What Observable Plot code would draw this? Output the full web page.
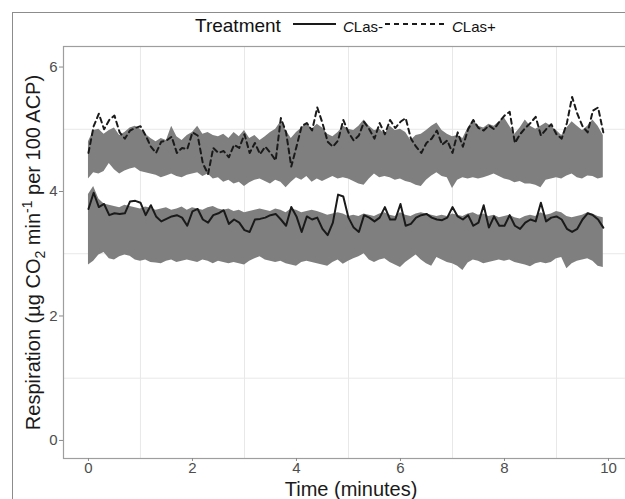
<!DOCTYPE html>
<html>
<head>
<meta charset="utf-8">
<script src="https://cdn.jsdelivr.net/npm/d3@7"></script>
<script src="https://cdn.jsdelivr.net/npm/@observablehq/plot@0.6"></script>
<style>
  html, body { margin: 0; padding: 0; background: #fff; overflow: hidden; width: 625px; height: 499px; }
  body { position: relative; font-family: "Liberation Sans", Arial, sans-serif; color: #111; }
  #outer { position: absolute; left: 12px; top: 12px; width: 700px; height: 600px;
           border-left: 1.5px solid #8c8c8c; border-top: 1.5px solid #8c8c8c; pointer-events: none; }
  #legend { position: relative; height: 40px; }
  #legend .t { position: absolute; white-space: nowrap; }
  #legend svg { position: absolute; }
  #chart { position: relative; height: 459px; width: 660px; }
  #chart svg { max-width: none !important; width: 660px !important; height: 459px !important; }
</style>
</head>
<body>
<div id="outer"></div>
<div id="legend"></div>
<div id="chart"></div>
<script>
// ---- data ----
const time = [0.0,0.1,0.2,0.3,0.4,0.5,0.6,0.7,0.8,0.9,1.0,1.1,1.2,1.3,1.4,1.5,1.6,1.7,1.8,1.9,
  2.0,2.1,2.2,2.3,2.4,2.5,2.6,2.7,2.8,2.9,3.0,3.1,3.2,3.3,3.4,3.5,3.6,3.7,3.8,3.9,
  4.0,4.1,4.2,4.3,4.4,4.5,4.6,4.7,4.8,4.9,5.0,5.1,5.2,5.3,5.4,5.5,5.6,5.7,5.8,5.9,
  6.0,6.1,6.2,6.3,6.4,6.5,6.6,6.7,6.8,6.9,7.0,7.1,7.2,7.3,7.4,7.5,7.6,7.7,7.8,7.9,
  8.0,8.1,8.2,8.3,8.4,8.5,8.6,8.7,8.8,8.9,9.0,9.1,9.2,9.3,9.4,9.5,9.6,9.7,9.8,9.9];

// CLas+ (dashed)
const posMean = [4.62,5.05,5.25,5.00,5.15,5.22,4.95,4.85,4.98,5.02,5.05,4.90,4.72,4.62,4.80,4.82,4.88,4.62,4.70,4.68,
  4.95,4.90,4.45,4.28,4.70,4.62,4.65,4.55,4.75,4.70,4.92,4.62,4.78,4.60,4.72,4.62,4.50,5.18,4.95,4.40,
  4.72,5.05,5.10,4.98,5.35,5.10,4.80,4.72,4.82,5.15,4.95,4.82,4.90,5.12,5.00,4.85,5.10,4.92,5.15,5.02,
  5.12,5.18,4.85,4.72,4.62,4.78,4.85,4.98,4.75,4.82,4.62,4.95,4.72,5.00,5.15,5.02,4.98,5.06,5.00,5.12,
  5.22,5.28,4.78,4.92,5.02,5.10,5.20,4.90,5.00,5.08,4.92,4.85,5.10,5.52,5.25,5.05,4.95,5.30,5.35,4.95];
const posHigh = [4.80,4.98,5.00,4.92,4.98,5.02,4.90,4.95,5.02,5.05,5.00,4.92,4.85,4.80,4.85,4.82,5.05,4.88,4.82,4.90,
  4.95,5.05,4.92,4.95,4.90,4.88,4.92,4.85,4.95,4.88,4.98,4.85,4.90,4.82,4.88,4.95,5.00,5.12,4.98,4.85,
  4.95,5.02,5.10,5.00,5.08,5.02,4.92,4.88,4.95,5.05,5.00,4.98,5.05,5.15,5.05,4.98,5.00,4.92,5.05,4.98,
  5.00,4.95,4.82,4.90,4.92,4.98,5.05,5.10,4.98,4.92,4.88,4.90,4.85,5.02,5.15,5.05,5.02,5.08,5.05,5.12,
  5.18,5.05,4.92,5.02,5.15,5.05,5.00,5.05,5.10,5.05,4.98,4.90,5.02,5.12,5.05,4.98,5.05,5.15,5.05,4.90];
const posLow = [4.20,4.30,4.28,4.32,4.45,4.35,4.28,4.33,4.36,4.38,4.32,4.30,4.28,4.26,4.22,4.25,4.28,4.24,4.22,4.26,
  4.28,4.30,4.24,4.28,4.20,4.22,4.15,4.18,4.12,4.15,4.08,4.14,4.18,4.20,4.16,4.12,4.18,4.15,4.06,4.15,
  4.22,4.18,4.24,4.15,4.20,4.16,4.20,4.24,4.20,4.22,4.20,4.16,4.12,4.10,4.20,4.28,4.22,4.24,4.22,4.18,
  4.20,4.16,4.14,4.10,4.08,4.18,4.25,4.30,4.24,4.22,4.05,4.18,4.22,4.20,4.22,4.20,4.22,4.25,4.28,4.24,
  4.20,4.18,4.14,4.16,4.12,4.12,4.10,4.06,4.18,4.20,4.22,4.20,4.25,4.28,4.22,4.20,4.25,4.24,4.20,4.22];

// CLas- (solid)
const negMean = [3.72,3.98,3.75,3.80,3.62,3.65,3.64,3.65,3.84,3.85,3.82,3.62,3.78,3.60,3.52,3.56,3.60,3.62,3.58,3.45,
  3.68,3.72,3.55,3.50,3.62,3.65,3.70,3.48,3.55,3.50,3.38,3.35,3.55,3.56,3.58,3.62,3.64,3.55,3.45,3.75,
  3.60,3.35,3.60,3.55,3.58,3.40,3.30,3.50,3.95,3.92,3.58,3.42,3.35,3.62,3.58,3.52,3.58,3.75,3.55,3.55,
  3.80,3.45,3.48,3.58,3.62,3.64,3.58,3.55,3.54,3.58,3.75,3.60,3.55,3.62,3.45,3.50,3.78,3.42,3.60,3.45,
  3.45,3.62,3.45,3.40,3.50,3.55,3.52,3.82,3.52,3.58,3.60,3.55,3.40,3.35,3.40,3.55,3.65,3.62,3.55,3.42];
const negHigh = [3.95,4.08,3.88,3.80,3.78,3.76,3.74,3.78,3.76,3.74,3.72,3.75,3.73,3.70,3.72,3.74,3.70,3.72,3.75,3.70,
  3.74,3.72,3.70,3.74,3.76,3.72,3.70,3.72,3.68,3.70,3.66,3.68,3.70,3.72,3.70,3.68,3.72,3.70,3.66,3.72,
  3.70,3.66,3.68,3.70,3.68,3.65,3.62,3.64,3.66,3.64,3.60,3.62,3.60,3.64,3.62,3.60,3.64,3.66,3.62,3.60,
  3.66,3.62,3.60,3.64,3.66,3.64,3.62,3.60,3.62,3.60,3.64,3.62,3.60,3.64,3.66,3.62,3.64,3.60,3.62,3.58,
  3.60,3.62,3.58,3.56,3.60,3.62,3.60,3.66,3.62,3.64,3.68,3.66,3.60,3.58,3.60,3.62,3.66,3.64,3.60,3.58];
const negLow = [2.82,2.88,2.98,3.02,2.92,2.90,2.95,2.98,2.96,2.90,2.88,2.90,2.86,2.85,2.84,2.88,2.90,2.86,2.88,2.90,
  2.88,2.86,2.90,2.88,2.84,2.88,2.86,2.84,2.86,2.84,2.82,2.88,2.92,2.95,2.90,2.88,2.86,2.88,2.84,2.82,
  2.80,2.86,2.88,2.86,2.84,2.82,2.80,2.86,2.90,2.83,2.88,2.92,2.95,3.00,2.90,2.86,2.90,2.92,2.86,2.82,
  2.78,2.86,2.92,2.98,2.90,2.84,2.80,2.94,2.90,2.86,2.84,2.80,2.73,2.85,2.90,2.88,2.84,2.86,2.88,2.90,
  2.88,2.90,2.86,2.84,2.82,2.79,2.84,2.86,2.84,2.86,2.92,2.94,2.76,2.84,2.88,2.90,2.92,2.88,2.80,2.78];

const treatments = ["CLas-", "CLas+"];
const xTicks = [0, 2, 4, 6, 8, 10];
const yTicks = [0, 2, 4, 6];
const xMinor = [1, 3, 5, 7, 9];
const yMinor = [1, 3, 5];
const xTitle = "Time (minutes)";
const legendTitle = "Treatment";

// ---- tables ----
const neg = time.map((t, i) => ({t, mean: negMean[i], lo: negLow[i], hi: negHigh[i]}));
const pos = time.map((t, i) => ({t, mean: posMean[i], lo: posLow[i], hi: posHigh[i]}));

const FONT = '"Liberation Sans", Arial, sans-serif';
const ribbon = "#7f7f7f";
const ink = "#1a1a1a";
const dash = "5,4";

// panel: x=0 at page x 88, 52 px per minute; panel left edge at 63, right edge off-page
const plot = Plot.plot({
  width: 660,
  height: 459,
  marginLeft: 63,
  marginRight: 0,
  marginTop: 6,
  marginBottom: 41,
  style: {fontFamily: FONT, background: "transparent", overflow: "visible"},
  x: {domain: [-0.48, 11.0]},
  y: {domain: [-0.29, 6.33]},
  marks: [
    Plot.gridX(xMinor, {stroke: "#e8e8e8", strokeOpacity: 1, strokeWidth: 1}),
    Plot.gridY(yMinor, {stroke: "#e8e8e8", strokeOpacity: 1, strokeWidth: 1}),
    Plot.areaY(pos, {x: "t", y1: "lo", y2: "hi", fill: ribbon, curve: "linear"}),
    Plot.areaY(neg, {x: "t", y1: "lo", y2: "hi", fill: ribbon, curve: "linear"}),
    Plot.line(pos, {x: "t", y: "mean", stroke: ink, strokeWidth: 2, strokeDasharray: dash}),
    Plot.line(neg, {x: "t", y: "mean", stroke: ink, strokeWidth: 2}),
    Plot.frame({stroke: "#9e9e9e", strokeWidth: 1.2}),
    Plot.axisY(yTicks, {tickSize: 4, tickPadding: 2, fontSize: 15, stroke: "#8a8a8a", fill: "#4d4d4d", label: null, tickFormat: d3.format("d")}),
    Plot.axisX(xTicks, {tickSize: 3, tickPadding: 1, fontSize: 15, stroke: "#8a8a8a", fill: "#4d4d4d", label: null, tickFormat: d3.format("d")}),
    Plot.text([xTitle], {x: [5.05], frameAnchor: "bottom", lineAnchor: "bottom", dy: 37, fontSize: 20, fill: ink}),
    Plot.text(["Respiration"], {frameAnchor: "left", dx: -30, rotate: -90, lineAnchor: "middle", textAnchor: "middle", fontSize: 20, fill: ink, className: "ytitle"})
  ]
});
plot.style.maxWidth = "none";
document.getElementById("chart").appendChild(plot);

// rich y-axis title with sub/superscripts
(function () {
  const txt = plot.querySelector("g.ytitle text") || plot.querySelector(".ytitle text");
  if (!txt) return;
  const NS = "http://www.w3.org/2000/svg";
  txt.textContent = "";
  const parts = [
    ["Respiration (µg CO", 0, 20],
    ["2", 5, 14],
    [" min", -5, 20],
    ["-1", -8, 14],
    [" per 100 ACP)", 8, 20]
  ];
  for (const [s, dy, fs] of parts) {
    const ts = document.createElementNS(NS, "tspan");
    ts.textContent = s;
    if (dy) ts.setAttribute("dy", dy);
    ts.setAttribute("font-size", fs);
    txt.appendChild(ts);
  }
})();

// legend
(function () {
  const L = document.getElementById("legend");
  const NS = "http://www.w3.org/2000/svg";
  function text(html, left, top, size) {
    const s = document.createElement("span");
    s.className = "t";
    s.style.left = left + "px";
    s.style.top = top + "px";
    s.style.fontSize = size + "px";
    s.style.lineHeight = size + "px";
    s.innerHTML = html;
    L.appendChild(s);
  }
  function key(left, dashed) {
    const svg = document.createElementNS(NS, "svg");
    svg.setAttribute("width", dashed ? 64 : 46);
    svg.setAttribute("height", 10);
    svg.style.left = left + "px";
    svg.style.top = "19px";
    const ln = document.createElementNS(NS, "line");
    ln.setAttribute("x1", 1); ln.setAttribute("x2", dashed ? 61 : 44);
    ln.setAttribute("y1", 5); ln.setAttribute("y2", 5);
    ln.setAttribute("stroke", ink);
    ln.setAttribute("stroke-width", 2);
    if (dashed) ln.setAttribute("stroke-dasharray", dash);
    svg.appendChild(ln);
    L.appendChild(svg);
  }
  text(legendTitle, 195, 16, 19);
  key(292, false);
  text("<i>C</i>" + treatments[0].slice(1), 343, 19, 15);
  key(384, true);
  text("<i>C</i>" + treatments[1].slice(1), 452, 19, 15);
})();
</script>
</body>
</html>
